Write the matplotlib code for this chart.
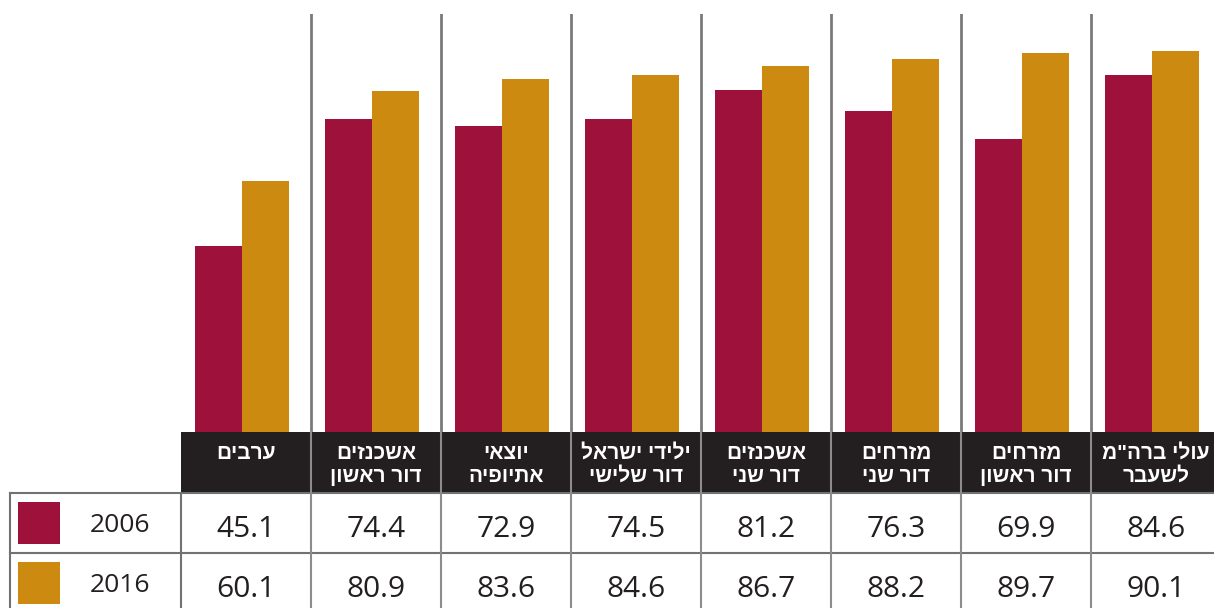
import numpy as np
import matplotlib
matplotlib.use('Agg')
import matplotlib.pyplot as plt
from matplotlib.patches import Rectangle

plt.rcParams['font.family'] = ['Open Sans', 'DejaVu Sans']
hebrew_font = ['Liberation Sans Narrow', 'Liberation Sans', 'DejaVu Sans']

# data (display order, left to right)
labels_top = ['ערבים', 'אשכנזים', 'יוצאי', 'ילידי ישראל', 'אשכנזים', 'מזרחים', 'מזרחים', 'עולי ברה"מ']
labels_bottom = ['', 'דור ראשון', 'אתיופיה', 'דור שלישי', 'דור שני', 'דור שני', 'דור ראשון', 'לשעבר']
years = ['2006', '2016']
values_2006 = [45.1, 74.4, 72.9, 74.5, 81.2, 76.3, 69.9, 84.6]
values_2016 = [60.1, 80.9, 83.6, 84.6, 86.7, 88.2, 89.7, 90.1]
colors = ['#9e113b', '#cd8a10']


def rtl(s):
    # matplotlib has no bidi support, so flip hebrew by hand
    return s[::-1]


W, H = 1214, 608
fig = plt.figure(figsize=(W / 100, H / 100), dpi=100, facecolor='white')


def px_axes(x0, y0, x1, y1):
    return fig.add_axes([x0 / W, 1 - y1 / H, (x1 - x0) / W, (y1 - y0) / H])


col_left, col_w = 181, 130
n = len(values_2006)

# bars
ax = px_axes(col_left, 14, col_left + n * col_w, 432)
x = np.arange(n) + 0.469
bw = 0.362
ax.bar(x - bw / 2, values_2006, width=bw, color=colors[0])
ax.bar(x + bw / 2, values_2016, width=bw, color=colors[1])
for i in range(1, n):
    ax.axvline(i, color='#7a7a7a', lw=2.0)
ax.set_xlim(0, n)
ax.set_ylim(2.15, 98.7)
ax.axis('off')

# table below, in pixel coords
tab = fig.add_axes([0, 0, 1, 1])
tab.set_xlim(0, W)
tab.set_ylim(H, 0)
tab.axis('off')

line_c = '#727272'
tab.add_patch(Rectangle((col_left, 432), W - col_left + 5, 60, color='#231f20', lw=0))
tab.plot([10, W], [493, 493], color=line_c, lw=1.5)
tab.plot([10, W], [553, 553], color=line_c, lw=1.5)
tab.plot([9.5, 9.5], [493, H], color=line_c, lw=1.5)
tab.plot([col_left, col_left], [493, H], color=line_c, lw=1.5)
for i in range(1, n):
    xx = col_left + i * col_w
    tab.plot([xx, xx], [432, H], color='#8c8c8c', lw=1.5)

for i in range(n):
    cx = col_left + (i + 0.5) * col_w
    tab.text(cx, 459, rtl(labels_top[i]), color='white', fontsize=15, fontweight='bold',
             family=hebrew_font, ha='center', va='baseline')
    if labels_bottom[i]:
        tab.text(cx, 482, rtl(labels_bottom[i]), color='white', fontsize=15, fontweight='bold',
                 family=hebrew_font, ha='center', va='baseline')
    tab.text(cx, 537, f'{values_2006[i]:.1f}', color='#231f20', fontsize=21.5,
             ha='center', va='baseline')
    tab.text(cx, 597, f'{values_2016[i]:.1f}', color='#231f20', fontsize=21.5,
             ha='center', va='baseline')

for j, yr in enumerate(years):
    y0 = 502 + j * 60
    tab.add_patch(Rectangle((18, y0), 42, 42, color=colors[j], lw=0))
    tab.text(120, y0 + 30, yr, color='#231f20', fontsize=19, ha='center', va='baseline')

fig.savefig('out.png', dpi=100, facecolor='white')
